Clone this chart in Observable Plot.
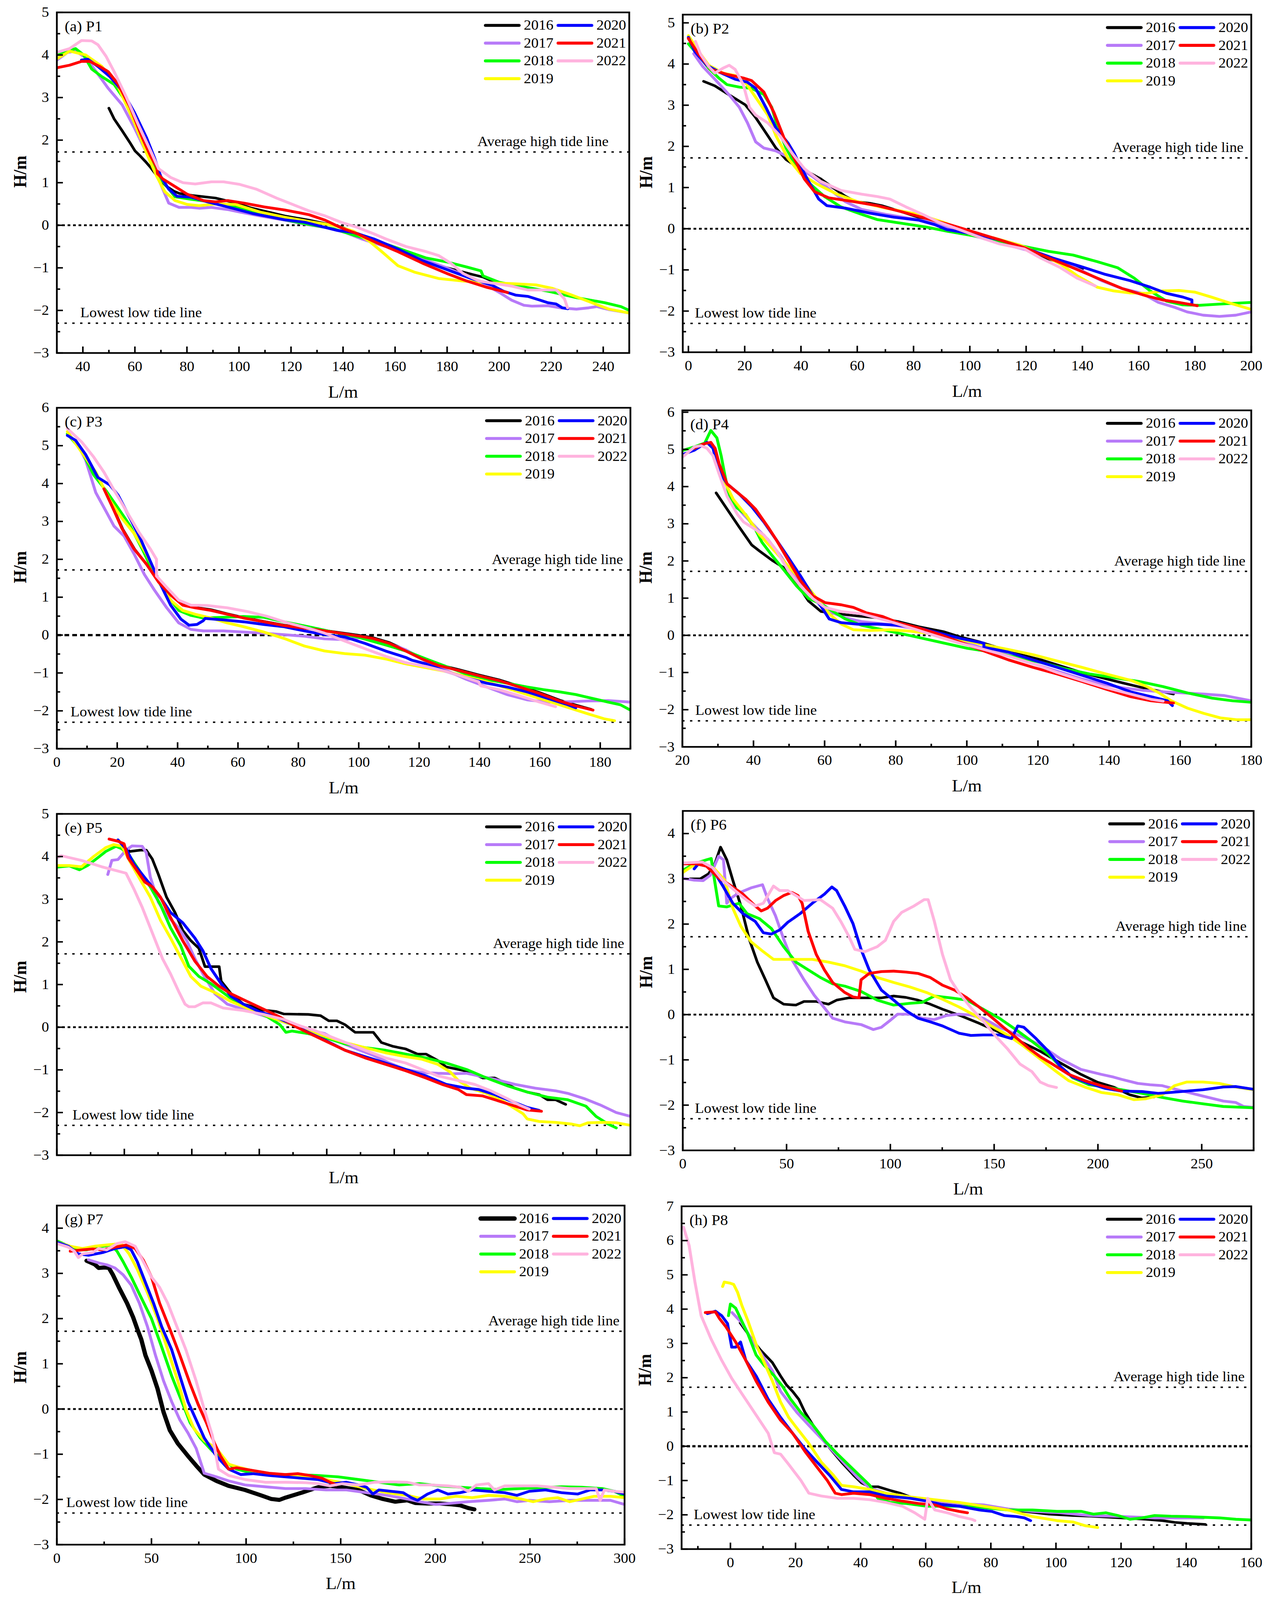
<!DOCTYPE html>
<html><head><meta charset="utf-8">
<script src="https://cdn.jsdelivr.net/npm/d3@7"></script>
<script src="https://cdn.jsdelivr.net/npm/@observablehq/plot@0.6"></script>
<style>
html,body{margin:0;padding:0;background:#fff;overflow:hidden;}
#fig{position:relative;width:3253px;height:4322px;background:#fff;overflow:hidden;transform-origin:0 0;}
.panel{position:absolute;}
</style></head><body><div id="fig"></div>
<script>
const YEARS = ["2016","2017","2018","2019","2020","2021","2022"];
const COLORS = ["#000000","#b77af8","#00ff00","#ffff00","#0000ff","#ff0000","#ffb3de"];
const HIGH_TIDE = 1.72, LOW_TIDE = -2.3;
const HIGH_LABEL = "Average high tide line", LOW_LABEL = "Lowest low tide line";

// ---------- P1 ----------
const P1_2016 = [[50,2.75],[52,2.5],[55,2.23],[58,1.95],[60,1.75],[62,1.63],[64,1.5],[66,1.36],[68,1.2],[70,1.05],[72,0.92],[75,0.8],[77,0.75],[82,0.7],[88,0.66],[91,0.64],[97,0.55],[105,0.4],[112,0.3],[117.5,0.22],[126.8,0.12],[133,0.04],[139.3,-0.04],[145,-0.18],[150,-0.3],[155,-0.45],[160,-0.58],[165,-0.7],[170,-0.82],[175,-0.92],[180,-1.0],[185,-1.08],[190,-1.16],[194,-1.22],[197,-1.3],[200,-1.36]];
const P1_2017 = [[30,3.88],[34.1,4.06],[37.2,4.09],[41.1,3.94],[45.8,3.55],[49.7,3.22],[55.1,2.83],[59.8,2.29],[66,1.51],[69.9,0.97],[73,0.52],[77,0.42],[81.6,0.42],[84.7,0.4],[89.4,0.42],[95.6,0.37],[100.3,0.31],[108,0.22],[117.5,0.12],[126.8,0.01],[133,-0.05],[140.9,-0.17],[147.1,-0.32],[156.4,-0.5],[164.2,-0.65],[179.8,-1.0],[192.3,-1.31],[200.1,-1.58],[204.8,-1.76],[209.5,-1.88],[212.6,-1.9],[218.8,-1.89],[223.5,-1.94],[229.7,-1.97],[234.4,-1.94],[237.5,-1.91],[242.2,-1.98],[250,-2.06]];
const P1_2018 = [[30,4.0],[37.2,4.15],[40.3,4.0],[43.4,3.67],[47.3,3.49],[52,3.31],[56.7,2.89],[61.4,2.35],[66,1.57],[70.7,1.03],[75.4,0.67],[81.6,0.61],[89.4,0.55],[98.8,0.43],[108,0.25],[117.5,0.13],[126.8,0.02],[136.2,-0.08],[144,-0.23],[156.4,-0.44],[172,-0.77],[179.8,-0.86],[187.5,-0.98],[193,-1.07],[193.8,-1.19],[200.1,-1.34],[207.9,-1.43],[218.8,-1.55],[229.7,-1.7],[240.6,-1.82],[246.8,-1.91],[250,-2.0]];
const P1_2019 = [[30,3.91],[34.9,4.09],[41.1,4.0],[47.3,3.73],[53.6,3.25],[59.8,2.41],[64.5,1.69],[68.4,1.15],[71.5,0.79],[75.4,0.58],[80.1,0.49],[84.7,0.46],[91,0.5],[98.8,0.49],[108.1,0.31],[117.5,0.19],[126.8,0.09],[136.2,0.0],[144,-0.14],[150.2,-0.38],[154.9,-0.62],[161.1,-0.95],[167.4,-1.1],[176.7,-1.25],[186.1,-1.31],[195.4,-1.35],[204.8,-1.37],[214.1,-1.4],[220.4,-1.48],[226.6,-1.61],[234.4,-1.79],[242.2,-1.97],[250,-2.06]];
const P1_2020 = [[39.5,3.88],[41.9,3.9],[45.8,3.73],[50.4,3.49],[55.1,3.16],[59.8,2.65],[64.5,2.05],[67.6,1.57],[69.9,1.15],[73,0.85],[76.2,0.68],[81.6,0.66],[87.9,0.55],[95.7,0.43],[105,0.28],[117.5,0.13],[125.3,0.07],[133.1,-0.05],[137.8,-0.12],[144,-0.17],[151.8,-0.32],[161.1,-0.56],[170.5,-0.83],[179.8,-1.04],[189.2,-1.25],[197,-1.4],[201.7,-1.55],[206.3,-1.64],[211,-1.67],[215.7,-1.76],[218.8,-1.82],[221.9,-1.85],[224.3,-1.94],[226.3,-1.96]];
const P1_2021 = [[30,3.7],[34.9,3.76],[39.5,3.85],[42.6,3.85],[46.5,3.73],[49.7,3.61],[53.6,3.31],[58.2,2.77],[62.9,2.05],[66,1.63],[68.4,1.36],[68.7,1.21],[70.7,1.09],[75.4,0.91],[80.1,0.73],[86.3,0.58],[91,0.55],[95.7,0.58],[101.9,0.52],[109.7,0.43],[117.5,0.36],[126.8,0.25],[133.1,0.12],[139.3,-0.06],[145.5,-0.2],[151.8,-0.38],[161.1,-0.62],[170.5,-0.89],[179.8,-1.13],[187.6,-1.31],[195.4,-1.46],[203.2,-1.58]];
const P1_2022 = [[30,4.06],[34.9,4.15],[39.5,4.34],[43.4,4.33],[45.8,4.24],[48.9,3.97],[52,3.61],[56.7,3.01],[61.4,2.35],[66,1.75],[69.1,1.33],[73.8,1.12],[78.5,1.0],[83.2,0.97],[89.4,1.02],[94.1,1.02],[100.3,0.96],[106.6,0.85],[114.4,0.64],[120.6,0.49],[126.8,0.34],[133.1,0.22],[139.3,0.07],[145.5,-0.05],[151.8,-0.2],[156.4,-0.32],[164.2,-0.5],[172,-0.62],[176.7,-0.71],[181.4,-0.89],[186.1,-1.13],[192.3,-1.31],[198.5,-1.37],[204.8,-1.43],[211,-1.52],[217.3,-1.52],[222,-1.52],[225.1,-1.73],[226.3,-1.94]];

// ---------- P2 ----------
const P2_2016 = [[5.4,3.58],[9.4,3.47],[15.2,3.22],[20.2,3.01],[23.9,2.7],[28.2,2.26],[31.1,1.96],[34.7,1.68],[38.3,1.52],[42.7,1.37],[47,1.21],[51.3,1.0],[55.7,0.79],[59.3,0.66],[64.4,0.62],[68.7,0.56],[74.5,0.44],[81.7,0.28],[87.5,0.16],[93.3,0.04],[100.5,-0.09],[110.6,-0.3],[119.3,-0.49],[125.1,-0.67],[132.3,-0.83],[136.7,-0.92],[140,-0.98]];
const P2_2017 = [[1.9,4.25],[5.1,3.94],[9.4,3.63],[14.5,3.25],[18.1,2.95],[21,2.57],[23.9,2.11],[26.8,1.96],[31.1,1.89],[34.7,1.77],[38.3,1.52],[44.1,1.27],[49.9,0.97],[55.7,0.66],[61.5,0.47],[70.1,0.35],[78.8,0.25],[87.5,0.15],[94.7,-0.06],[103.4,-0.21],[113.5,-0.4],[123.6,-0.58],[132.3,-0.8],[139.5,-1.01],[146.8,-1.26],[154,-1.45],[161.2,-1.57],[167,-1.79],[172.8,-1.91],[177.2,-2.02],[182.9,-2.1],[188.7,-2.13],[194.5,-2.1],[200,-2.02]];
const P2_2018 = [[0,4.49],[3.6,4.21],[7.2,3.9],[10.8,3.66],[13.7,3.5],[18.1,3.44],[22.4,3.41],[26.8,3.26],[29.6,2.95],[31.8,2.45],[34.7,1.96],[38.3,1.52],[42.7,1.12],[48.4,0.78],[54.2,0.53],[61.5,0.35],[67.2,0.22],[75.9,0.13],[84.5,0.04],[91.8,-0.06],[102,-0.18],[110.6,-0.3],[119.3,-0.43],[128,-0.55],[136.7,-0.64],[145.3,-0.8],[152.6,-0.95],[158.4,-1.2],[164.1,-1.51],[169.9,-1.76],[175.7,-1.85],[181.5,-1.86],[188.7,-1.83],[194.5,-1.81],[200,-1.79]];
const P2_2019 = [[0,4.69],[3.6,4.31],[7.2,3.97],[12.3,3.78],[16.6,3.72],[20.2,3.56],[23.9,3.19],[28.2,2.76],[31.1,2.26],[35.4,1.71],[39.8,1.34],[45.5,1.09],[52.8,0.84],[60,0.66],[70.1,0.5],[81.7,0.35],[90.4,0.16],[99.1,-0.06],[107.7,-0.21],[117.9,-0.4],[125.1,-0.61],[132.3,-0.86],[138.1,-1.14],[145.3,-1.42],[151.1,-1.51],[156.9,-1.56],[162.7,-1.57],[168.5,-1.51],[174.3,-1.5],[180,-1.54],[185.8,-1.66],[193.1,-1.82],[200,-1.96]];
const P2_2020 = [[0,4.65],[2.2,4.31],[6.5,3.97],[10.8,3.81],[16.6,3.63],[20.9,3.56],[23.9,3.41],[27.5,2.95],[31.1,2.45],[35.4,2.08],[37.6,1.83],[39.8,1.52],[42.7,1.15],[46.3,0.72],[49.2,0.56],[55.7,0.5],[64.4,0.38],[73,0.28],[81.7,0.21],[87.5,0.1],[91.8,-0.02],[100.5,-0.12],[110.6,-0.27],[119.3,-0.46],[129.4,-0.71],[139.5,-0.92],[148.2,-1.11],[156.9,-1.26],[164.1,-1.42],[169.9,-1.57],[175.7,-1.66],[178.9,-1.73],[178.9,-1.82]];
const P2_2021 = [[0,4.62],[3.6,4.24],[8,3.87],[13.7,3.75],[19.5,3.66],[22.4,3.6],[26.8,3.32],[30.4,2.82],[34,2.2],[37.6,1.71],[41.2,1.21],[44.8,0.9],[49.9,0.75],[58.6,0.66],[67.2,0.56],[75.9,0.41],[84.5,0.25],[93.3,0.09],[102,-0.09],[110.6,-0.27],[119.3,-0.46],[128,-0.71],[136.7,-0.95],[145.3,-1.2],[154,-1.45],[162.7,-1.63],[168.5,-1.73],[174.3,-1.79],[180.8,-1.87]];
const P2_2022 = [[2.5,4.55],[4.3,4.24],[7.2,3.94],[9.4,3.78],[12.3,3.9],[14.5,3.97],[16.6,3.87],[19.5,3.5],[21.7,2.95],[23.9,2.76],[28.2,2.57],[32.5,2.26],[36.9,1.83],[41.2,1.46],[47,1.15],[54.2,0.93],[61.5,0.84],[67.2,0.78],[71.6,0.72],[77.3,0.53],[83.2,0.35],[88.9,0.16],[96.2,-0.02],[104.8,-0.24],[110.6,-0.37],[119.3,-0.49],[125.1,-0.71],[132.3,-0.95],[138.1,-1.2],[144.6,-1.39]];

// ---------- P3 ----------
const P3_2016 = [[16,3.82],[19.2,3.26],[21.8,2.8],[25.8,2.26],[29.8,1.86],[33.8,1.4],[37.8,1.06],[41.6,0.8],[45.8,0.73],[51,0.67],[56.5,0.56],[62,0.46],[68.6,0.36],[75.3,0.26],[83.4,0.18],[91.4,0.09],[99.5,0.0],[104.8,-0.07],[110.2,-0.2],[115.6,-0.4],[121,-0.61],[126.3,-0.78],[133,-0.91],[139.7,-1.05],[146.4,-1.18],[153.2,-1.35],[160,-1.52],[166.6,-1.72],[172,-1.85],[177,-1.96]];
const P3_2017 = [[3.5,5.31],[6.8,5.04],[9.5,4.63],[12.9,3.76],[16.2,3.28],[18.9,2.88],[22.3,2.61],[25.6,2.14],[29,1.6],[32.3,1.19],[36.4,0.72],[40.4,0.32],[44.4,0.15],[48.5,0.11],[55.2,0.11],[61.9,0.08],[68.6,0.05],[75.3,0.01],[82,-0.03],[88.7,-0.1],[95.4,-0.12],[102.1,-0.05],[108.9,-0.19],[115.6,-0.39],[122.3,-0.69],[129,-0.93],[135.7,-1.17],[142.4,-1.37],[149.1,-1.57],[155.8,-1.71],[162.6,-1.77],[169.3,-1.76],[176,-1.74],[182.7,-1.73],[190,-1.77]];
const P3_2018 = [[3.5,5.31],[8.2,4.87],[12.2,4.23],[16.2,3.82],[20.3,3.35],[24.3,2.88],[28.3,2.27],[32.3,1.6],[36.4,1.06],[40.4,0.65],[44.4,0.52],[48.5,0.45],[55.2,0.47],[61.9,0.49],[68.6,0.47],[75.3,0.35],[83.4,0.22],[91.4,0.08],[99.5,-0.05],[108.9,-0.26],[115.6,-0.42],[122.3,-0.63],[129,-0.83],[135.7,-1.03],[142.4,-1.17],[149.1,-1.27],[155.8,-1.37],[161.2,-1.44],[166.6,-1.5],[171.9,-1.57],[177.3,-1.67],[182.7,-1.77],[186.7,-1.84],[190,-1.98]];
const P3_2019 = [[3.5,5.37],[8.2,4.83],[12.9,4.3],[17.6,3.55],[21.6,3.08],[25.6,2.68],[29.7,2.14],[33.7,1.46],[37.7,0.92],[41.7,0.65],[45.8,0.55],[51.1,0.45],[56.5,0.32],[61.9,0.22],[68.6,0.08],[75.3,-0.09],[82,-0.29],[88.7,-0.42],[95.4,-0.49],[102.1,-0.53],[108.9,-0.63],[115.6,-0.76],[122.3,-0.86],[129,-0.96],[135.7,-1.1],[142.4,-1.23],[149.1,-1.4],[155.8,-1.57],[162.6,-1.74],[169.3,-1.91],[176,-2.08],[181.3,-2.21],[184.7,-2.26]];
const P3_2020 = [[3.5,5.27],[6.2,5.14],[9.5,4.77],[13.6,4.16],[17.6,3.96],[20.3,3.69],[24.3,3.08],[27.7,2.54],[31,1.94],[34.4,1.33],[37.7,0.79],[41.1,0.42],[43.8,0.26],[46.4,0.28],[48.5,0.38],[49.1,0.44],[55.2,0.4],[61.9,0.35],[68.6,0.28],[75.3,0.22],[82,0.11],[88.7,0.01],[95.4,-0.05],[102.1,-0.22],[108.9,-0.42],[115.6,-0.59],[117.5,-0.66],[122.3,-0.76],[129,-0.96],[135.7,-1.13],[142.4,-1.27],[149.1,-1.37],[155.8,-1.5],[162.6,-1.67],[169.3,-1.84],[171.9,-1.92]];
const P3_2021 = [[15.6,3.86],[19,3.28],[21.6,2.81],[25.6,2.27],[29.7,1.87],[33.7,1.4],[37.7,1.06],[41.7,0.79],[45.8,0.72],[51.1,0.65],[56.5,0.55],[61.9,0.45],[68.6,0.35],[75.3,0.25],[83.4,0.17],[91.4,0.08],[99.5,-0.02],[104.8,-0.09],[110.2,-0.22],[115.6,-0.42],[120.9,-0.63],[126.3,-0.8],[133,-0.93],[139.7,-1.07],[146.4,-1.2],[153.2,-1.37],[159.9,-1.54],[166.6,-1.74],[171.9,-1.87],[177.6,-1.98]];
const P3_2022 = [[3.5,5.45],[8.2,5.1],[12.2,4.7],[15.6,4.3],[19,3.82],[23,3.28],[27,2.74],[31,2.27],[33,2.0],[33,1.56],[36.4,1.26],[40.4,0.92],[44.4,0.79],[49.8,0.78],[56.5,0.72],[63.2,0.62],[69.9,0.49],[76.6,0.32],[83.4,0.18],[88.7,0.05],[95.4,-0.16],[102.1,-0.36],[108.9,-0.56],[115.6,-0.73],[122.3,-0.83],[129,-0.96],[135.7,-1.13],[139.7,-1.23],[140.4,-1.34],[146.4,-1.44],[153.2,-1.6],[159.9,-1.77],[165.2,-1.89]];

// ---------- P4 ----------
const P4_2016 = [[29.5,3.83],[32.6,3.39],[36,2.91],[39.5,2.43],[41.8,2.26],[45.2,2.02],[48.7,1.81],[52.1,1.4],[55.5,0.92],[59,0.64],[63.6,0.58],[69.3,0.52],[75,0.47],[80.7,0.37],[86.5,0.23],[93.4,0.1],[98,-0.04],[103.7,-0.18],[109.4,-0.35],[115.1,-0.52],[120.9,-0.66],[126.6,-0.83],[132.3,-1.0],[138,-1.14],[143.8,-1.28],[149.5,-1.41],[155.2,-1.52],[158.1,-1.58]];
const P4_2017 = [[34.3,3.56],[37.2,3.25],[40.6,2.91],[44.1,2.57],[47.5,2.15],[50.9,1.67],[54.4,1.19],[57.8,0.92],[61.3,0.64],[65.8,0.47],[70.4,0.37],[77.3,0.3],[84.2,0.2],[91.1,0.03],[97.9,-0.14],[103.7,-0.32],[109.4,-0.45],[115.1,-0.66],[120.9,-0.83],[126.6,-1.0],[132.3,-1.17],[138,-1.31],[143.8,-1.41],[149.5,-1.48],[155.2,-1.52],[160.9,-1.55],[166.7,-1.58],[172.4,-1.62],[180,-1.76]];
const P4_2018 = [[20,4.97],[23.4,5.07],[26.3,5.17],[28,5.51],[29.7,5.31],[30.9,4.83],[32,4.28],[33.2,3.73],[34.9,3.46],[37.8,3.25],[40.6,2.84],[42.4,2.5],[45.2,2.15],[48.7,1.74],[52.1,1.33],[55.5,0.99],[59,0.85],[62.4,0.64],[65.8,0.44],[70.4,0.27],[77.3,0.13],[84.2,-0.01],[92.2,-0.18],[100.2,-0.35],[107.1,-0.45],[114,-0.59],[120.9,-0.73],[127.7,-0.9],[134.6,-1.04],[141.5,-1.14],[148.4,-1.24],[155.2,-1.38],[162.1,-1.55],[169,-1.69],[174.7,-1.76],[180,-1.8]];
const P4_2019 = [[28,5.14],[29.7,4.83],[31.5,4.21],[34.3,3.66],[38.3,3.18],[41.8,2.7],[46.4,2.22],[50.9,1.74],[54.4,1.4],[57.8,0.99],[61.3,0.58],[64.7,0.3],[68.1,0.15],[72.7,0.13],[78.5,0.15],[84.2,0.11],[91.1,0.03],[98,-0.11],[104.8,-0.25],[111.7,-0.38],[118.6,-0.52],[125.4,-0.69],[132.3,-0.86],[139.2,-1.04],[146.1,-1.21],[150.7,-1.38],[154.1,-1.55],[157.5,-1.76],[162.1,-1.96],[166.7,-2.1],[171.3,-2.22],[175.9,-2.27],[180,-2.27]];
const P4_2020 = [[20,4.86],[23.4,4.98],[26.9,5.19],[28.6,5.03],[30.3,4.42],[32.6,4.07],[36,3.8],[39.5,3.46],[42.9,3.05],[46.4,2.57],[49.8,2.09],[53.2,1.6],[56.7,1.06],[59,0.78],[61.3,0.44],[64.7,0.34],[69.3,0.3],[75,0.3],[80.7,0.27],[86.5,0.2],[92.2,0.06],[98,-0.08],[104.8,-0.21],[104.8,-0.32],[111.7,-0.45],[118.6,-0.66],[125.4,-0.86],[132.3,-1.07],[139.2,-1.28],[146.1,-1.52],[151.8,-1.65],[156.4,-1.76],[157.8,-1.89]];
const P4_2021 = [[23.4,5.03],[25.7,5.14],[28,5.19],[29.2,5.03],[30.3,4.62],[32.6,4.07],[36,3.8],[37.8,3.66],[40.6,3.39],[44.1,2.91],[46.4,2.57],[49.8,2.02],[53.2,1.47],[56.7,1.06],[60.1,0.88],[64.7,0.82],[68.1,0.75],[71.6,0.61],[76.2,0.51],[80.7,0.34],[86.5,0.2],[92.2,0.03],[98,-0.18],[104.8,-0.42],[111.7,-0.66],[118.6,-0.86],[125.4,-1.04],[132.3,-1.24],[139.2,-1.45],[146.1,-1.65],[151.8,-1.76],[158.1,-1.82]];
const P4_2022 = [[20,4.79],[23.4,5.07],[25.2,5.1],[26.9,5.03],[28.6,4.83],[30.3,4.35],[32.6,3.73],[35.5,3.25],[37.2,3.05],[39.5,2.91],[42.9,2.7],[46.4,2.29],[49.8,1.74],[53.2,1.33],[56.7,0.99],[60.1,0.75],[64.7,0.64],[70.4,0.58],[77.3,0.4],[84.2,0.2],[91.1,-0.01],[98,-0.21],[104.8,-0.38],[111.7,-0.56],[118.6,-0.76],[125.4,-1.0],[132.3,-1.21],[139.2,-1.41],[146.1,-1.58],[151.8,-1.72],[155.2,-1.77]];

// ---------- P5 ----------
const P5_2016 = [[19.3,4.24],[21.7,4.12],[24.7,4.15],[26.5,4.15],[28.3,3.94],[30.1,3.58],[32.5,3.05],[35,2.69],[37.3,2.27],[39.7,2.03],[42.1,1.85],[43.9,1.42],[48.1,1.42],[48.7,1.08],[51.7,0.78],[55.3,0.54],[57.7,0.49],[60.1,0.41],[64.9,0.37],[67.3,0.31],[74.5,0.3],[78.2,0.27],[80.6,0.15],[83,0.15],[85.4,0.06],[88.4,-0.12],[93.8,-0.12],[96.2,-0.36],[99.7,-0.45],[103.4,-0.51],[106.9,-0.63],[109.4,-0.63],[112.9,-0.78],[115.4,-0.93],[119,-0.99],[122.6,-1.05],[126.2,-1.19],[129.8,-1.19],[132.2,-1.28],[135.8,-1.43],[139.4,-1.52],[143,-1.58],[145.4,-1.7],[147.8,-1.7],[150.8,-1.81]];
const P5_2017 = [[15.1,3.58],[16.3,3.91],[18.1,3.93],[20.5,4.15],[22.3,4.25],[25.3,4.24],[26.5,4.09],[27.7,3.52],[30.1,2.93],[32.5,2.63],[36.1,2.33],[38.5,2.03],[40.9,1.61],[43.3,1.25],[46.9,0.78],[50.5,0.54],[55.3,0.42],[60.1,0.3],[64.9,0.18],[69.7,0.06],[74.5,-0.06],[79.4,-0.15],[84.2,-0.36],[88.9,-0.51],[93.8,-0.66],[98.6,-0.84],[103.4,-0.99],[108.2,-1.06],[112.9,-1.08],[117.8,-1.09],[121.4,-1.08],[125,-1.14],[129.8,-1.22],[135.8,-1.34],[141.8,-1.43],[147.8,-1.49],[151.4,-1.55],[156.2,-1.67],[161,-1.82],[165.8,-2.0],[170,-2.09]];
const P5_2018 = [[0,3.75],[3.7,3.78],[6.7,3.69],[9.1,3.79],[12.1,3.97],[14.5,4.12],[17.5,4.24],[19.3,4.18],[21.7,4.0],[24.7,3.64],[27.7,3.29],[30.7,2.87],[33.7,2.33],[36.7,1.91],[39.1,1.43],[42.1,1.19],[45.7,1.02],[49.3,0.81],[52.9,0.6],[57.7,0.42],[62.5,0.24],[66.1,0.06],[67.9,-0.12],[69.7,-0.09],[74.5,-0.15],[79.4,-0.24],[85.4,-0.39],[91.4,-0.48],[97.4,-0.54],[103.4,-0.63],[109.4,-0.72],[115.4,-0.84],[121.4,-0.99],[127.4,-1.19],[133.4,-1.37],[139.4,-1.52],[145.4,-1.64],[151.4,-1.7],[156.8,-1.85],[159.8,-2.09],[163.4,-2.27],[165.8,-2.36]];
const P5_2019 = [[0,3.79],[3.7,3.79],[7.3,3.76],[10.9,4.0],[14.5,4.21],[16.9,4.28],[19.3,4.24],[21.7,3.88],[24.7,3.46],[27.7,3.05],[30.7,2.51],[33.7,2.09],[37.3,1.55],[39.7,1.19],[42.7,0.96],[46.9,0.81],[51.7,0.6],[55.3,0.48],[60.1,0.33],[64.9,0.19],[69.7,0.06],[74.5,-0.09],[79.4,-0.21],[85.4,-0.36],[91.4,-0.48],[97.4,-0.6],[103.4,-0.69],[108.2,-0.75],[112.9,-0.87],[116.6,-1.05],[119,-1.25],[122.6,-1.43],[127.4,-1.55],[132.2,-1.73],[135.8,-1.91],[138.2,-2.03],[139.4,-2.15],[143,-2.21],[147.8,-2.23],[152.6,-2.27],[155,-2.31],[157.4,-2.24],[162.2,-2.23],[165.8,-2.24],[170,-2.3]];
const P5_2020 = [[18.1,4.39],[20.5,4.18],[22.9,3.82],[26.5,3.46],[30.1,3.11],[33.7,2.69],[37.3,2.45],[40.9,2.09],[43.3,1.79],[45.7,1.37],[48.7,1.02],[51.7,0.72],[55.3,0.54],[60.1,0.36],[64.9,0.24],[69.7,0.07],[74.5,-0.12],[79.4,-0.3],[85.4,-0.54],[91.4,-0.69],[97.4,-0.84],[103.4,-0.99],[109.4,-1.14],[115.4,-1.34],[121.4,-1.43],[125,-1.46],[129.8,-1.58],[134.6,-1.73],[139.4,-1.88],[143,-1.95]];
const P5_2021 = [[15.5,4.41],[18.1,4.36],[19.9,4.3],[21.1,3.97],[23.5,3.7],[26.1,3.4],[28.3,3.29],[30.7,3.05],[33.7,2.57],[37.3,2.03],[40.9,1.55],[44.5,1.19],[48.1,0.96],[51.7,0.78],[56.5,0.6],[61.3,0.42],[66.1,0.24],[71.1,0.0],[75.8,-0.18],[80.6,-0.36],[85.4,-0.54],[91.4,-0.72],[97.4,-0.87],[103.4,-1.02],[109.4,-1.19],[114.2,-1.34],[119,-1.46],[121.4,-1.58],[126.2,-1.61],[131,-1.73],[135.8,-1.85],[139.4,-1.94],[143.6,-1.97]];
const P5_2022 = [[0,3.97],[1.3,4.02],[7.3,3.91],[13.3,3.76],[20.5,3.61],[22.9,3.23],[25.3,2.81],[28.3,2.21],[31.3,1.61],[33.7,1.25],[36.1,0.84],[38,0.54],[39.1,0.48],[40.9,0.48],[43.3,0.57],[45.7,0.57],[49.3,0.45],[55.3,0.39],[61.3,0.3],[67.3,0.18],[72.1,0.03],[76.9,-0.09],[81.7,-0.24],[86.6,-0.39],[91.4,-0.54],[97.4,-0.72],[103.4,-0.84],[108.2,-0.99],[112.9,-1.14],[119,-1.25],[123.8,-1.34],[128.6,-1.49],[133.4,-1.67],[137,-1.82],[140,-1.92]];

// ---------- P6 ----------
const P6_2016 = [[3.5,3.0],[8.4,3.0],[12.4,3.11],[15.3,3.31],[18.2,3.7],[21.2,3.42],[24.1,2.97],[28,2.4],[32,1.67],[35.9,1.16],[39.8,0.77],[43.7,0.37],[48.6,0.23],[54.5,0.21],[58.4,0.29],[64.3,0.29],[70.2,0.23],[74.1,0.32],[80,0.37],[87.8,0.37],[95.7,0.37],[101.6,0.41],[107.5,0.38],[113.3,0.32],[119.2,0.23],[125.1,0.12],[133,-0.01],[142.7,-0.19],[152.5,-0.39],[162.4,-0.59],[172.2,-0.81],[182,-1.07],[191.8,-1.32],[199.6,-1.49],[207.5,-1.6],[215.3,-1.77],[221.2,-1.84],[227,-1.82]];
const P6_2017 = [[0,3.01],[5.5,2.97],[9.8,2.96],[13.3,3.08],[17.3,3.5],[19.6,3.42],[21.2,2.46],[23.1,2.57],[27.1,2.69],[32.9,2.8],[38.4,2.87],[40.8,2.57],[44.7,2.18],[48.6,1.67],[52.5,1.22],[58.4,0.77],[63.3,0.43],[68.2,0.15],[72.2,-0.08],[78,-0.16],[85.9,-0.22],[91.8,-0.33],[95.7,-0.28],[99.6,-0.14],[103.5,0.01],[109.4,0.01],[115.3,-0.08],[121.2,-0.11],[127.1,-0.02],[132.9,0.01],[138.8,-0.01],[144.7,-0.08],[152.5,-0.28],[162.4,-0.47],[172.2,-0.67],[182,-0.98],[191.8,-1.21],[201.6,-1.32],[207.5,-1.38],[211.4,-1.43],[219.2,-1.52],[225.1,-1.55],[231,-1.57],[240.8,-1.69],[250.6,-1.8],[260.4,-1.91],[266.3,-1.94],[270.2,-2.03],[275,-2.05]];
const P6_2018 = [[0,3.19],[5.5,3.33],[11.4,3.42],[13.7,3.45],[15.3,2.97],[17.3,2.4],[21.2,2.38],[27.1,2.46],[31,2.23],[36.9,2.12],[42.7,1.9],[48.6,1.5],[54.5,1.16],[60.4,0.99],[66.3,0.82],[72.2,0.68],[78,0.63],[86,0.51],[93.7,0.32],[101.6,0.21],[109.4,0.25],[115.3,0.27],[121.2,0.41],[129,0.37],[136.9,0.32],[144.7,0.12],[152.5,-0.08],[160.4,-0.33],[168.2,-0.59],[176.1,-0.87],[182,-1.15],[188,-1.4],[195.7,-1.55],[203.5,-1.6],[211.4,-1.66],[221.2,-1.74],[231,-1.83],[240.8,-1.91],[250.6,-1.97],[260.4,-2.03],[275,-2.06]];
const P6_2019 = [[0,3.14],[4.5,3.28],[9.4,3.33],[15.3,3.22],[20.2,2.97],[24.1,2.35],[28,1.95],[32.9,1.61],[38.8,1.39],[43.7,1.22],[50.6,1.22],[62.4,1.22],[70.2,1.16],[78,1.08],[86,0.96],[93.7,0.82],[101.6,0.71],[109.4,0.61],[117.3,0.49],[125.1,0.34],[133,0.17],[140.8,-0.02],[148.6,-0.25],[156.5,-0.45],[164.3,-0.7],[172.2,-0.98],[180,-1.26],[185.9,-1.46],[193.7,-1.6],[201.6,-1.72],[209.4,-1.77],[217.3,-1.88],[223.1,-1.86],[231,-1.77],[236.9,-1.57],[242.7,-1.49],[250.6,-1.49],[258.4,-1.52],[266.3,-1.6],[275,-1.66]];
const P6_2020 = [[5.5,3.22],[7.5,3.33],[11.4,3.28],[15.3,3.14],[19.2,2.85],[24.1,2.46],[29,2.23],[34.9,2.06],[38.8,1.81],[42.7,1.78],[46.7,1.87],[50.6,2.04],[56.5,2.23],[62.4,2.46],[68.2,2.66],[71.8,2.82],[74.1,2.74],[78,2.4],[82,2.01],[85.9,1.44],[89.8,0.99],[95.7,0.54],[101.6,0.32],[107.5,0.09],[113.3,-0.08],[119.2,-0.16],[125.1,-0.25],[133,-0.41],[138.8,-0.46],[144.7,-0.45],[152.5,-0.45],[158.4,-0.53],[161.4,-0.25],[164.3,-0.28],[170.2,-0.53],[176.1,-0.81],[182,-1.15],[187.8,-1.38],[195.7,-1.52],[203.5,-1.63],[211.4,-1.69],[221.2,-1.7],[229,-1.74],[234.9,-1.72],[242.7,-1.69],[250.6,-1.66],[260.4,-1.6],[266.3,-1.59],[275,-1.65]];
const P6_2021 = [[0,3.33],[6.5,3.33],[11.4,3.28],[17.3,3.02],[23.1,2.85],[29,2.66],[34.9,2.4],[37.8,2.29],[40.8,2.35],[44.7,2.52],[48.6,2.63],[52.5,2.7],[55.5,2.63],[57.5,2.46],[60.4,1.84],[64.3,1.33],[68.2,0.99],[72.2,0.71],[78,0.49],[82,0.39],[84.9,0.37],[85.9,0.77],[89.8,0.91],[95.7,0.95],[101.6,0.96],[107.5,0.94],[113.3,0.91],[119.2,0.82],[125.1,0.65],[131,0.54],[136.9,0.37],[142.7,0.17],[148.6,-0.05],[154.5,-0.28],[160.4,-0.5],[166.3,-0.73],[172.2,-0.93],[178,-1.09],[185.9,-1.32],[193.7,-1.46],[201.6,-1.57],[211.4,-1.69]];
const P6_2022 = [[0,3.35],[9.4,3.37],[14.3,3.25],[19.2,2.97],[25.1,2.74],[31,2.52],[34.9,2.4],[38.8,2.46],[43.7,2.84],[46.7,2.74],[50.6,2.74],[54.5,2.63],[58.4,2.52],[66.3,2.54],[72.2,2.35],[76.1,2.06],[80,1.73],[82.9,1.44],[87.8,1.39],[93.7,1.5],[97.6,1.64],[101.6,2.06],[105.5,2.26],[111.4,2.4],[116.3,2.54],[118.2,2.54],[121.2,2.06],[125.1,1.33],[129,0.77],[133,0.49],[138.8,0.15],[144.7,-0.14],[150.6,-0.47],[156.5,-0.76],[162.4,-1.09],[168.2,-1.26],[172.2,-1.49],[176.1,-1.57],[180,-1.61]];

// ---------- P7 ----------
const P7_2016 = [[15.7,3.28],[20,3.2],[22.1,3.12],[25.3,3.13],[27.5,3.12],[29.6,2.97],[32.8,2.69],[37.1,2.34],[40.3,2.03],[42.5,1.77],[44.6,1.54],[46.8,1.19],[50,0.85],[53.2,0.45],[56.4,-0.07],[59.7,-0.47],[63.9,-0.76],[69.3,-1.04],[73.6,-1.25],[77.9,-1.45],[84.3,-1.59],[90.8,-1.7],[99.4,-1.79],[107.9,-1.91],[113.3,-1.99],[117.6,-2.01],[120.8,-1.96],[129.4,-1.85],[138,-1.73],[144.4,-1.7],[150.9,-1.73],[159.4,-1.79],[165.9,-1.91],[172.3,-1.99],[178.8,-2.05],[185.2,-2.02],[189.5,-2.08],[195.9,-2.09],[202.4,-2.09],[208.8,-2.11],[213.1,-2.13],[217.4,-2.19],[220.6,-2.22]];
const P7_2017 = [[16.7,3.3],[22.1,3.23],[26.4,3.19],[30.7,3.12],[35,2.97],[39.3,2.74],[43.6,2.34],[47.9,1.82],[52.1,1.19],[56.4,0.62],[60.7,0.16],[65,-0.24],[69.3,-0.53],[73.6,-0.87],[77.9,-1.42],[84.3,-1.5],[90.8,-1.59],[99.4,-1.68],[110.1,-1.72],[120.8,-1.76],[131.5,-1.76],[142.3,-1.79],[153,-1.79],[163.7,-1.85],[174.5,-1.91],[185.2,-1.99],[191.6,-2.05],[200.2,-2.11],[206.7,-2.09],[217.4,-2.05],[228.1,-2.02],[236.7,-1.99],[243.1,-2.05],[249.6,-2.02],[260.3,-2.05],[271,-2.02],[281.8,-2.02],[292.5,-2.02],[300,-2.11]];
const P7_2018 = [[0,3.72],[4.9,3.63],[10.3,3.52],[15.7,3.52],[22.1,3.58],[28.5,3.63],[31.8,3.49],[35,3.26],[39.3,2.92],[44.6,2.46],[50,2.0],[55.4,1.37],[60.7,0.73],[66.1,0.16],[70.4,-0.3],[75.8,-0.64],[82.2,-0.93],[88.6,-1.16],[95,-1.33],[103.6,-1.42],[112.2,-1.45],[125.1,-1.45],[138,-1.47],[148.7,-1.5],[159.4,-1.56],[170.2,-1.62],[180.9,-1.68],[191.6,-1.65],[202.4,-1.7],[213.1,-1.73],[223.8,-1.76],[234.5,-1.78],[245.3,-1.76],[256,-1.74],[266.7,-1.72],[277.5,-1.73],[288.2,-1.76],[294.6,-1.82],[300,-1.93]];
const P7_2019 = [[0,3.69],[7.1,3.6],[13.5,3.55],[19.9,3.6],[26.4,3.63],[33.9,3.66],[38.2,3.43],[42.5,3.09],[47.9,2.57],[53.2,2.0],[58.6,1.31],[63.9,0.62],[68.2,-0.01],[72.5,-0.44],[77.9,-0.7],[84.3,-0.87],[90.8,-1.22],[97.2,-1.3],[105.8,-1.39],[116.5,-1.45],[129.4,-1.47],[142.3,-1.56],[153,-1.65],[163.7,-1.76],[174.5,-1.85],[185.2,-1.91],[193.8,-1.99],[202.4,-1.99],[210.9,-1.93],[219.5,-1.96],[228.1,-1.91],[236.7,-1.93],[245.3,-1.99],[251.7,-2.05],[258.2,-1.99],[264.6,-1.96],[271,-2.05],[277.5,-1.99],[283.9,-1.93],[292.5,-1.93],[300,-1.96]];
const P7_2020 = [[0,3.69],[6,3.6],[11.4,3.43],[16.7,3.4],[24.2,3.46],[30.7,3.55],[36.1,3.59],[39.3,3.52],[42.5,3.26],[46.8,2.8],[51.1,2.34],[55.4,1.82],[60.7,1.31],[65,0.73],[69.3,0.16],[73.6,-0.24],[77.9,-0.64],[84.3,-1.04],[90.8,-1.33],[97.2,-1.45],[103.6,-1.43],[112.2,-1.47],[120.8,-1.5],[129.4,-1.53],[138,-1.56],[146.6,-1.65],[153,-1.62],[159.4,-1.68],[163.7,-1.73],[167,-1.88],[170.2,-1.79],[176.6,-1.82],[183,-1.85],[187.3,-1.96],[190.6,-2.02],[195.9,-1.88],[201.3,-1.79],[206.7,-1.88],[213.1,-1.85],[219.5,-1.79],[228.1,-1.82],[236.7,-1.85],[243.1,-1.91],[249.6,-1.82],[258.2,-1.79],[266.7,-1.85],[275.3,-1.88],[281.8,-1.79],[288.2,-1.79],[294.6,-1.82],[300,-1.88]];
const P7_2021 = [[7.1,3.49],[13.5,3.52],[18.9,3.54],[24.2,3.52],[30.7,3.58],[37.1,3.63],[41.4,3.55],[45.7,3.29],[50,2.92],[54.3,2.34],[59.7,1.77],[65,1.19],[70.4,0.56],[74.7,0.1],[79,-0.3],[83.3,-0.76],[86.5,-1.04],[90.8,-1.33],[95,-1.3],[103.6,-1.36],[112.2,-1.42],[120.8,-1.45],[127.3,-1.43],[133.7,-1.47],[140.1,-1.53],[144.4,-1.62],[147.6,-1.68]];
const P7_2022 = [[0,3.66],[6,3.58],[9.2,3.49],[11.4,3.35],[13.5,3.43],[18.9,3.46],[22.1,3.55],[26.4,3.52],[31.8,3.66],[36.1,3.7],[41.4,3.6],[45.7,3.26],[50,2.92],[54.3,2.69],[58.6,2.34],[62.9,1.88],[68.2,1.31],[73.6,0.62],[77.9,-0.01],[82.2,-0.59],[85.4,-1.33],[90.8,-1.47],[99.4,-1.56],[110.1,-1.62],[120.8,-1.62],[131.5,-1.63],[138,-1.65],[144.4,-1.7],[150.9,-1.65],[159.4,-1.68],[168,-1.62],[176.6,-1.61],[185.2,-1.62],[191.6,-1.68],[198.1,-1.68],[206.7,-1.7],[213.1,-1.73],[217.4,-1.82],[221.7,-1.68],[228.1,-1.65],[231.3,-1.79],[236.7,-1.7],[245.3,-1.7],[253.9,-1.7],[262.4,-1.73],[271,-1.76],[279.6,-1.76],[285,-1.76],[287.1,-2.02],[289.3,-1.79],[294.6,-1.82],[300,-1.84]];

// ---------- P8 ----------
const P8_2016 = [[3,3.6],[6.6,3.12],[9.1,2.82],[12.9,2.44],[15.4,2.05],[17.2,1.79],[19.1,1.6],[21,1.37],[22.9,0.99],[25.4,0.61],[27.9,0.3],[30.4,-0.04],[34.1,-0.46],[37.8,-0.84],[40.3,-1.07],[42.8,-1.18],[45.3,-1.18],[49.1,-1.29],[52.2,-1.37],[55.3,-1.48],[60.3,-1.6],[67.8,-1.67],[75.3,-1.71],[82.8,-1.83],[90.3,-1.9],[97.8,-1.98],[105.3,-2.02],[112.8,-2.05],[120.3,-2.09],[127.8,-2.13],[132.8,-2.17],[136.5,-2.22],[140.3,-2.25],[145.9,-2.28]];
const P8_2017 = [[0.5,3.9],[3.5,3.6],[6.6,3.1],[9.1,2.75],[12.9,2.2],[15.4,1.6],[17.9,1.29],[20.4,0.99],[24.1,0.61],[27.9,0.23],[31.6,-0.15],[35.3,-0.53],[39.1,-0.91],[42.8,-1.22],[47.8,-1.37],[55.3,-1.48],[62.8,-1.6],[70.3,-1.67],[77.8,-1.71],[85.3,-1.83],[92.8,-1.9],[101.5,-1.94],[110.3,-2.02],[120.3,-2.05],[130.3,-2.09],[139,-2.09],[145.3,-2.09]];
const P8_2018 = [[-0.6,3.81],[0,4.15],[1.6,4.03],[3.5,3.65],[5.4,3.27],[7.9,2.66],[10.4,2.36],[13.5,2.05],[16,1.75],[18.5,1.37],[21.6,0.99],[25.4,0.61],[29.1,0.15],[32.9,-0.23],[36.6,-0.57],[40.3,-0.91],[42.8,-1.14],[45.3,-1.52],[49.1,-1.64],[54.1,-1.67],[60.3,-1.75],[65.3,-1.75],[70.3,-1.75],[77.8,-1.79],[85.3,-1.86],[92.8,-1.86],[100.3,-1.9],[107.8,-1.9],[111.5,-1.98],[115.3,-1.94],[119,-2.02],[122.8,-2.13],[126.5,-2.09],[130.3,-2.02],[135.3,-2.04],[140.3,-2.05],[145.3,-2.07],[150.3,-2.09],[155.3,-2.13],[160,-2.15]];
const P8_2019 = [[-2.4,4.66],[-1.9,4.79],[-0.2,4.76],[1,4.72],[2.2,4.49],[3.5,4.11],[5.4,3.65],[7.9,2.97],[10.4,2.44],[12.9,1.9],[15.4,1.29],[17.9,0.84],[20.4,0.53],[24.1,0.08],[27.9,-0.46],[31.6,-0.84],[34.1,-1.14],[37.8,-1.18],[42.8,-1.26],[47.8,-1.37],[55.3,-1.48],[62.8,-1.56],[70.3,-1.64],[77.8,-1.75],[85.3,-1.86],[92.8,-2.05],[100.3,-2.17],[105.3,-2.21],[109.1,-2.32],[112.8,-2.37]];
const P8_2020 = [[-7.1,3.87],[-4.6,3.94],[-2.7,3.81],[-0.9,3.58],[0.4,2.89],[1.6,2.89],[3.1,3.04],[4.7,2.51],[7.9,2.05],[11.6,1.37],[15.4,0.84],[19.1,0.38],[22.9,-0.08],[26.6,-0.46],[30.4,-0.84],[34.1,-1.26],[37.8,-1.33],[42.8,-1.33],[47.8,-1.45],[55.3,-1.52],[60.3,-1.6],[65.3,-1.71],[70.3,-1.75],[76.6,-1.86],[80.3,-1.9],[84.1,-2.02],[87.8,-2.05],[90.3,-2.09],[92.2,-2.17]];
const P8_2021 = [[-7.7,3.9],[-4.6,3.92],[-3.4,3.73],[-1.5,3.5],[1.6,3.04],[4.7,2.51],[7.9,1.9],[11.6,1.29],[15.4,0.76],[19.1,0.38],[22.9,-0.15],[26.6,-0.61],[29.7,-0.99],[32.2,-1.37],[34.1,-1.41],[37.8,-1.37],[42.8,-1.41],[47.8,-1.52],[52.8,-1.6],[57.8,-1.67],[62.8,-1.71],[66.6,-1.83],[70.3,-1.9],[72.8,-1.94]];
const P8_2022 = [[-14.4,6.39],[-12.7,5.86],[-10.9,4.79],[-9,3.81],[-5.9,3.12],[-2.7,2.51],[0.4,1.98],[4.1,1.45],[7.9,0.91],[11.6,0.38],[13.5,-0.19],[15.4,-0.23],[17.9,-0.53],[21.6,-0.99],[24.1,-1.37],[27.9,-1.45],[32.9,-1.52],[37.8,-1.52],[42.8,-1.56],[47.8,-1.64],[52.8,-1.75],[56.6,-1.94],[59.7,-2.13],[60.6,-1.52],[62.8,-1.86],[66.6,-1.94],[70.3,-2.05],[74.1,-2.13],[75.1,-2.17]];

// ---------- panels ----------
const TITLES = ["(a) P1","(b) P2","(c) P3","(d) P4","(e) P5","(f) P6","(g) P7","(h) P8"];
const SERIES = [
  [P1_2016,P1_2017,P1_2018,P1_2019,P1_2020,P1_2021,P1_2022],
  [P2_2016,P2_2017,P2_2018,P2_2019,P2_2020,P2_2021,P2_2022],
  [P3_2016,P3_2017,P3_2018,P3_2019,P3_2020,P3_2021,P3_2022],
  [P4_2016,P4_2017,P4_2018,P4_2019,P4_2020,P4_2021,P4_2022],
  [P5_2016,P5_2017,P5_2018,P5_2019,P5_2020,P5_2021,P5_2022],
  [P6_2016,P6_2017,P6_2018,P6_2019,P6_2020,P6_2021,P6_2022],
  [P7_2016,P7_2017,P7_2018,P7_2019,P7_2020,P7_2021,P7_2022],
  [P8_2016,P8_2017,P8_2018,P8_2019,P8_2020,P8_2021,P8_2022]
];
const X_DOMAINS = [[30,250],[-2,200],[0,190],[20,180],[0,170],[0,275],[0,300],[-15,160]];
const Y_DOMAINS = [[-3,5],[-3,5.2],[-3,6],[-3,6.05],[-3,5],[-3,4.5],[-3,4.5],[-3,7]];
const X_MAJOR = [
  [40,60,80,100,120,140,160,180,200,220,240],
  [0,20,40,60,80,100,120,140,160,180,200],
  [0,20,40,60,80,100,120,140,160,180],
  [20,40,60,80,100,120,140,160,180],
  [0,20,40,60,80,100,120,140,160],
  [0,50,100,150,200,250],
  [0,50,100,150,200,250,300],
  [0,20,40,60,80,100,120,140,160]
];
const X_MINOR = [
  [30,50,70,90,110,130,150,170,190,210,230,250],
  [10,30,50,70,90,110,130,150,170,190],
  [10,30,50,70,90,110,130,150,170,190],
  [30,50,70,90,110,130,150,170],
  [10,30,50,70,90,110,130,150,170],
  [25,75,125,175,225,275],
  [25,75,125,175,225,275],
  [-10,10,30,50,70,90,110,130,150]
];
const X_SHOW_LABELS = [true,true,true,true,false,true,true,true];

// layout (frame rectangles in page pixels of the 3253x4322 figure)
const FRAMES = [
  {L:145,R:1610,T:33,B:953},{L:1747,R:3202,T:39,B:951},
  {L:145,R:1613,T:1101,B:2022},{L:1746,R:3202,T:1108,B:2017},
  {L:145,R:1613,T:2198,B:3120},{L:1747,R:3208,T:2190,B:3107},
  {L:145,R:1598,T:3256,B:4172},{L:1744,R:3202,T:3258,B:4184}
];
const HIGH_DX = [-53,-20,-19,-15,-16,-18,-13,-17];
const LOW_DX = [60,31,35,33,40,31,24,31];
const YT_DY = [-30,-30,-30,-30,-21,-23,-21,-21];
const XT_DY = [106,106,106,106,61,104,105,104];
const ZERO_STYLE = [
  {w:5,d:"7,7"},{w:5,d:"7,7"},{w:6,d:"12,8"},{w:5,d:"7,7"},
  {w:5,d:"7,7"},{w:5,d:"7,7"},{w:5,d:"7,7"},{w:6,d:"8,6"}
];
const BLACK_W = [7,7,7,7,7,7,11,7];

const LINE_SHAPE = {draw(context, l) { context.moveTo(0, 0); context.lineTo(0, -l); }};
const FONT = "'Liberation Serif','Times New Roman',Times,serif";
const ML = 150, MR = 24, MT = 24, MB = 140;
const numFmt = d => (d < 0 ? "\u2212" + Math.abs(d) : String(d));

function yTicks(dom) {
  const major = [], minor = [];
  for (let v = Math.ceil(dom[0]); v <= dom[1] + 1e-9; v++) major.push(v);
  for (let v = Math.ceil(dom[0]) + 0.5; v <= dom[1] + 1e-9; v++) minor.push(v);
  return {major, minor};
}

const fig = document.getElementById("fig");
TITLES.forEach((title, k) => {
  const f = FRAMES[k];
  const W = f.R - f.L + ML + MR, H = f.B - f.T + MT + MB;
  const yt = yTicks(Y_DOMAINS[k]);
  const marks = [];
  const dotted = {stroke: "#000", strokeWidth: 4, strokeDasharray: "6,14"};
  marks.push(Plot.ruleY([HIGH_TIDE], dotted));
  marks.push(Plot.ruleY([LOW_TIDE], dotted));
  marks.push(Plot.ruleY([0], {stroke: "#000", strokeWidth: ZERO_STYLE[k].w, strokeDasharray: ZERO_STYLE[k].d}));
  SERIES[k].forEach((s, i) => {
    marks.push(Plot.line(s, {x: d => d[0], y: d => d[1], stroke: COLORS[i],
      strokeWidth: i === 0 ? BLACK_W[k] : 7.5, strokeLinejoin: "round", strokeLinecap: "round", clip: true}));
  });
  marks.push(Plot.frame({stroke: "#000", strokeWidth: 4.5}));
  marks.push(Plot.axisY(yt.major, {tickSize: 0, tickPadding: 20, label: null, fontSize: 38, tickFormat: numFmt}));
  marks.push(Plot.axisY(yt.major, {tickSize: -16, strokeWidth: 4, tickFormat: () => "", label: null}));
  marks.push(Plot.axisY(yt.minor, {tickSize: -9, strokeWidth: 4, tickFormat: () => "", label: null}));
  marks.push(Plot.axisX(X_MAJOR[k], {tickSize: 0, tickPadding: 22, label: null, fontSize: 38,
    tickFormat: X_SHOW_LABELS[k] ? numFmt : (() => "")}));
  marks.push(Plot.axisX(X_MAJOR[k], {tickSize: -17, strokeWidth: 4, tickFormat: () => "", label: null}));
  marks.push(Plot.axisX(X_MINOR[k], {tickSize: -8, strokeWidth: 4, tickFormat: () => "", label: null}));
  marks.push(Plot.text(["H/m"], {frameAnchor: "left", dx: -93, dy: YT_DY[k], rotate: -90, text: d => d,
    fontWeight: "bold", fontSize: 46, textAnchor: "middle", lineAnchor: "middle"}));
  marks.push(Plot.text(["L/m"], {frameAnchor: "bottom", dy: XT_DY[k], text: d => d,
    fontSize: 46, textAnchor: "middle", lineAnchor: "middle"}));
  marks.push(Plot.text([title], {frameAnchor: "top-left", dx: 20, dy: 38, text: d => d,
    fontSize: 40, textAnchor: "start", lineAnchor: "middle"}));
  marks.push(Plot.text([HIGH_TIDE], {y: d => d, frameAnchor: "right", dx: HIGH_DX[k], dy: -16,
    text: () => HIGH_LABEL, textAnchor: "end", lineAnchor: "bottom", fontSize: 38}));
  marks.push(Plot.text([LOW_TIDE], {y: d => d, frameAnchor: "left", dx: LOW_DX[k], dy: -16,
    text: () => LOW_LABEL, textAnchor: "start", lineAnchor: "bottom", fontSize: 38}));
  YEARS.forEach((yr, i) => {
    const col = i < 4 ? 0 : 1, row = i < 4 ? i : i - 4;
    const dy = 35 + row * 48;
    marks.push(Plot.vector([yr], {frameAnchor: "top-right", dx: -368 + col * 186, dy,
      length: 86, rotate: 90, anchor: "start", shape: LINE_SHAPE, stroke: COLORS[i],
      strokeWidth: i === 0 ? BLACK_W[k] + 1 : 8, strokeLinecap: "round"}));
    marks.push(Plot.text([yr], {frameAnchor: "top-right", dx: -270 + col * 186, dy,
      text: d => d, textAnchor: "start", lineAnchor: "middle", fontSize: 38}));
  });

  const svg = Plot.plot({
    width: W, height: H, marginLeft: ML, marginRight: MR, marginTop: MT, marginBottom: MB,
    x: {domain: X_DOMAINS[k]}, y: {domain: Y_DOMAINS[k]},
    style: {fontFamily: FONT, fontSize: "38px", background: "transparent", overflow: "visible", maxWidth: "none", color: "#000"},
    marks
  });
  const div = document.createElement("div");
  div.className = "panel";
  div.style.left = (f.L - ML) + "px";
  div.style.top = (f.T - MT) + "px";
  div.appendChild(svg);
  fig.appendChild(div);
});

// fit the 3253x4322 figure into the actual viewport
const vw = window.innerWidth, vh = window.innerHeight;
const sx = vw / 3253, sy = vh / 4322;
if (Math.abs(sx - 1) > 0.002 || Math.abs(sy - 1) > 0.002) {
  fig.style.transform = `scale(${sx},${sy})`;
}
</script></body></html>
